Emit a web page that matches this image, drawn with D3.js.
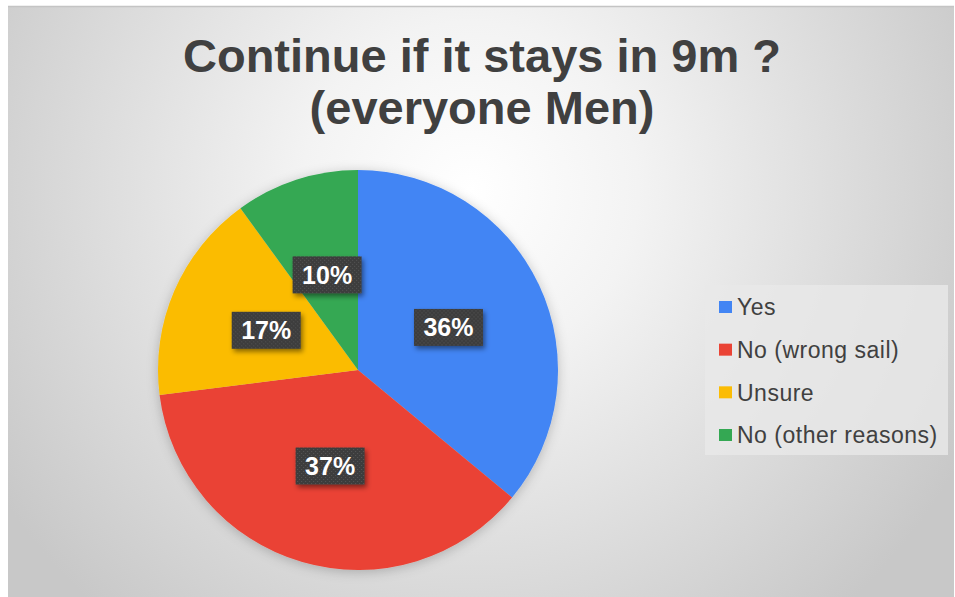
<!DOCTYPE html>
<html>
<head>
<meta charset="utf-8">
<script src="https://cdn.jsdelivr.net/npm/d3@7"></script>
<style>
html,body{margin:0;padding:0;background:#fff;}
svg{display:block;}
</style>
</head>
<body>
<svg id="chart" width="955" height="597"></svg>
<script>
const titleLines = ["Continue if it stays in 9m ?", "(everyone Men)"];
const categories = ["Yes", "No (wrong sail)", "Unsure", "No (other reasons)"];
const values = [36, 37, 17, 10];
const colors = ["#4285F4", "#EA4335", "#FBBC04", "#34A853"];

const svg = d3.select("#chart");
const defs = svg.append("defs");

const bg = defs.append("radialGradient").attr("id", "bg")
  .attr("gradientUnits", "userSpaceOnUse")
  .attr("cx", 470).attr("cy", 190).attr("r", 560);
bg.append("stop").attr("offset", "0%").attr("stop-color", "#ffffff");
bg.append("stop").attr("offset", "30%").attr("stop-color", "#f3f3f3");
bg.append("stop").attr("offset", "100%").attr("stop-color", "#c8c8c8");

const sh = defs.append("filter").attr("id", "pieShadow")
  .attr("x", "-20%").attr("y", "-20%").attr("width", "140%").attr("height", "140%");
sh.append("feDropShadow").attr("dx", 0).attr("dy", 2).attr("stdDeviation", 6)
  .attr("flood-color", "#000").attr("flood-opacity", 0.22);

const lsh = defs.append("filter").attr("id", "lblShadow")
  .attr("x", "-30%").attr("y", "-30%").attr("width", "160%").attr("height", "160%");
lsh.append("feDropShadow").attr("dx", 2).attr("dy", 3).attr("stdDeviation", 2.5)
  .attr("flood-color", "#000").attr("flood-opacity", 0.45);

const pat = defs.append("pattern").attr("id", "dots")
  .attr("width", 4).attr("height", 4).attr("patternUnits", "userSpaceOnUse");
pat.append("rect").attr("width", 4).attr("height", 4).attr("fill", "#3d3d3d");
pat.append("rect").attr("x", 1).attr("y", 1).attr("width", 1).attr("height", 1).attr("fill", "#555");
pat.append("rect").attr("x", 3).attr("y", 3).attr("width", 1).attr("height", 1).attr("fill", "#555");

// chart area
svg.append("rect").attr("x", 8).attr("y", 6).attr("width", 946).attr("height", 591)
  .attr("fill", "url(#bg)");
svg.append("line").attr("x1", 8).attr("x2", 954).attr("y1", 6.5).attr("y2", 6.5)
  .attr("stroke", "#c4c4c4").attr("stroke-width", 1.5);

// title
svg.append("text")
  .attr("x", 482).attr("y", 72)
  .attr("text-anchor", "middle")
  .attr("font-family", "Liberation Sans, Arial, sans-serif")
  .attr("font-weight", "bold").attr("font-size", 47)
  .attr("fill", "#404040")
  .selectAll("tspan").data(titleLines).join("tspan")
  .attr("x", 482).attr("dy", (d, i) => i === 0 ? 0 : 52)
  .text(d => d);

// pie
const cx = 358, cy = 370, R = 200;
const pie = d3.pie().sort(null).value(d => d.v);
const data = pie(categories.map((c, i) => ({c, v: values[i], col: colors[i]})));
const arc = d3.arc().innerRadius(0).outerRadius(R);
const labelArc = d3.arc().innerRadius(R * 0.5).outerRadius(R * 0.5);

const g = svg.append("g").attr("transform", `translate(${cx},${cy})`);
g.append("g").attr("filter", "url(#pieShadow)")
  .selectAll("path").data(data).join("path")
  .attr("d", arc).attr("fill", d => d.data.col);

const lbl = g.selectAll("g.lbl").data(data).join("g")
  .attr("class", "lbl")
  .attr("transform", d => `translate(${labelArc.centroid(d)})`);
lbl.append("rect")
  .attr("x", -34.5).attr("y", -18.5).attr("width", 69).attr("height", 37)
  .attr("fill", "url(#dots)").attr("filter", "url(#lblShadow)");
lbl.append("text")
  .attr("text-anchor", "middle").attr("dy", "0.36em")
  .attr("font-family", "Liberation Sans, Arial, sans-serif")
  .attr("font-weight", "bold").attr("font-size", 25)
  .attr("fill", "#ffffff")
  .text(d => Math.round(d.data.v / d3.sum(values) * 100) + "%");

// legend
const lg = svg.append("g");
lg.append("rect").attr("x", 705).attr("y", 285).attr("width", 243).attr("height", 170)
  .attr("fill", "#e9e9e9").attr("opacity", 0.8);
const ly = d3.scalePoint().domain(categories).range([307, 435]);
const items = lg.selectAll("g.it").data(categories).join("g").attr("class", "it")
  .attr("transform", d => `translate(719,${ly(d)})`);
items.append("rect").attr("x", 0).attr("y", -6).attr("width", 13).attr("height", 12)
  .attr("fill", (d, i) => colors[i]);
items.append("text").attr("x", 18).attr("dy", "0.36em")
  .attr("font-family", "Liberation Sans, Arial, sans-serif")
  .attr("font-size", 23).attr("letter-spacing", 0.5).attr("fill", "#404040")
  .text(d => d);
</script>
</body>
</html>
